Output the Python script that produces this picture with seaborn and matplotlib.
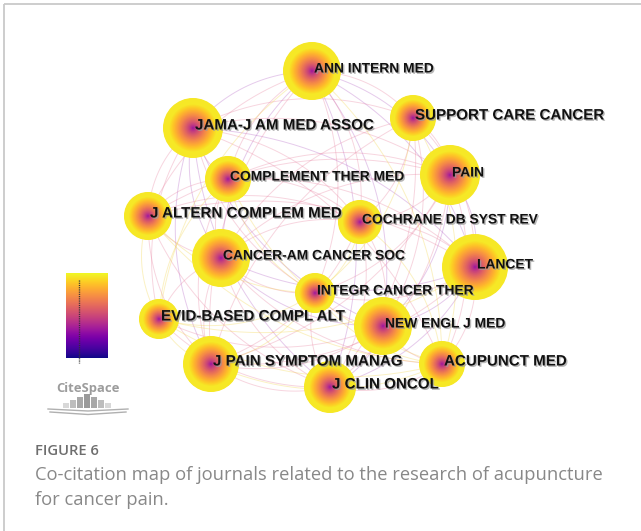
import numpy as np
import pandas as pd
import matplotlib
matplotlib.use("Agg")
import matplotlib.pyplot as plt
import matplotlib.patheffects as pe
import seaborn as sns

# ---------------- data ----------------
journals = ["ANN INTERN MED", "SUPPORT CARE CANCER", "JAMA-J AM MED ASSOC", "PAIN",
            "COMPLEMENT THER MED", "J ALTERN COMPLEM MED", "COCHRANE DB SYST REV",
            "CANCER-AM CANCER SOC", "LANCET", "INTEGR CANCER THER",
            "EVID-BASED COMPL ALT", "NEW ENGL J MED", "J PAIN SYMPTOM MANAG",
            "ACUPUNCT MED", "J CLIN ONCOL"]
# layout coordinates of the network (CiteSpace layout)
node_x = [312, 413, 193, 450, 228, 148, 360, 221, 475, 315, 159, 383, 211, 442, 330]
node_y = [71, 118, 128, 175, 179, 216, 222, 258, 267, 293, 319, 326, 364, 364, 387]
# node radius (proportional to co-citation frequency)
node_r = [29, 23, 30, 30, 23, 24, 22, 29, 33, 20, 20, 29, 28, 23, 26]

# co-citation links, grouped by time slice (old / middle / recent)
links_old = [(0, 2), (0, 8), (0, 11), (2, 8), (2, 11), (8, 11), (0, 3), (3, 8),
             (2, 7), (7, 11), (7, 8), (2, 14), (8, 14), (11, 14), (0, 14), (3, 11),
             (0, 7), (2, 12)]
links_mid = [(0, 1), (0, 4), (0, 5), (0, 6), (0, 9), (0, 12), (1, 2), (1, 3), (1, 6),
             (1, 7), (1, 8), (1, 11), (1, 12), (1, 14), (2, 3), (2, 4), (2, 5), (2, 6),
             (2, 9), (2, 10), (3, 4), (3, 5), (3, 6), (3, 7), (3, 12), (3, 13), (3, 14),
             (4, 5), (4, 6), (4, 7), (4, 12), (4, 8), (5, 7), (5, 8), (5, 12), (5, 14),
             (5, 6), (6, 7), (6, 8), (6, 11), (6, 12), (6, 14), (7, 9), (7, 10), (7, 12),
             (7, 13), (7, 14), (8, 9), (8, 12), (8, 13), (9, 11), (9, 14), (10, 11),
             (10, 14), (11, 12), (11, 13), (12, 14), (13, 14), (3, 9), (2, 13)]
links_new = [(9, 13), (9, 10), (10, 13), (4, 9), (4, 13), (5, 9), (5, 13), (10, 12),
             (1, 9), (1, 13), (6, 9), (9, 12), (12, 13), (4, 10), (0, 13), (5, 10),
             (6, 13), (0, 10), (8, 10)]

caption_title = "FIGURE 6"
caption_lines = ["Co-citation map of journals related to the research of acupuncture",
                 "for cancer pain."]
big_labels = {"SUPPORT CARE CANCER", "JAMA-J AM MED ASSOC", "J ALTERN COMPLEM MED",
              "EVID-BASED COMPL ALT", "J PAIN SYMPTOM MANAG", "ACUPUNCT MED", "J CLIN ONCOL"}

# ---------------- figure ----------------
W, H = 641, 531
fig = plt.figure(figsize=(W / 100, H / 100), dpi=100)
ax = fig.add_axes([0, 0, 1, 1])
ax.set_xlim(0, W)
ax.set_ylim(H, 0)
ax.axis("off")

# ---- links as curved arcs ----
cx, cy = np.mean(node_x), np.mean(node_y)
rows = []
eid = 0
for grp, lst in (("old", links_old), ("mid", links_mid), ("new", links_new)):
    for a, b in lst:
        p0 = np.array([node_x[a], node_y[a]], float)
        p2 = np.array([node_x[b], node_y[b]], float)
        mid = (p0 + p2) / 2
        d = p2 - p0
        L = np.hypot(*d)
        n = np.array([-d[1], d[0]]) / L
        if np.dot(n, mid - np.array([cx, cy])) < 0:
            n = -n
        p1 = mid + n * 0.22 * L
        t = np.linspace(0, 1, 30)[:, None]
        pts = (1 - t) ** 2 * p0 + 2 * (1 - t) * t * p1 + t ** 2 * p2
        for px, py in pts:
            rows.append((eid, grp, px, py))
        eid += 1
edf = pd.DataFrame(rows, columns=["edge", "slice", "x", "y"])
sns.lineplot(data=edf, x="x", y="y", units="edge", estimator=None, sort=False,
             hue="slice", palette={"old": "#b260c4", "mid": "#e8809f", "new": "#f3d54a"},
             lw=0.7, alpha=0.33, legend=False, ax=ax, zorder=1)

# ---- nodes as concentric rings (plasma gradient) ----
n_rings = 50
ring_rows = []
for i in range(len(journals)):
    for k in range(n_rings):
        f = 1 - k / n_rings
        shade = 0.3 + 0.66 * min(1.0, f / 0.8) ** 0.75
        area = (2 * node_r[i] * f * 0.72) ** 2
        ring_rows.append((node_x[i], node_y[i], f, shade, area))
ndf = pd.DataFrame(ring_rows, columns=["x", "y", "f", "shade", "area"])
ndf = ndf.sort_values("f", ascending=False, kind="stable")
amin, amax = ndf["area"].min(), ndf["area"].max()
sns.scatterplot(data=ndf, x="x", y="y", hue="shade", palette="plasma", hue_norm=(0, 1),
                size="area", sizes=(amin, amax), size_norm=(amin, amax),
                linewidth=0, edgecolor="none", legend=False, ax=ax, zorder=2)
ax.set_xlim(0, W)
ax.set_ylim(H, 0)
ax.axis("off")

# ---- labels ----
shadow = [pe.withSimplePatchShadow(offset=(1.0, -1.0), shadow_rgbFace="#9a9a9a", alpha=0.7)]
for name, x, y in zip(journals, node_x, node_y):
    fs = 10.9 if name in big_labels else 9.95
    ax.text(x + 2, y + 1.5, name, fontsize=fs, fontweight="bold", family="Liberation Sans",
            color="#111111", va="baseline", ha="left", zorder=5, path_effects=shadow)

# ---- border ----
ax.plot([4, W], [4, 4], color="#c9c9c9", lw=1.3, zorder=6, solid_capstyle="butt")
ax.plot([4, 4], [4, H], color="#c9c9c9", lw=1.3, zorder=6, solid_capstyle="butt")

# ---- colour bar (time slices) ----
cax = fig.add_axes([66 / W, 1 - 358 / H, 42 / W, 85 / H])
grad = np.linspace(1, 0, 256)[:, None]
cax.imshow(grad, cmap="plasma", aspect="auto", extent=[66, 108, 358, 273], vmin=0, vmax=1)
cax.set_xlim(66, 108)
cax.set_ylim(358, 273)
cax.axis("off")
cax.plot([79, 79], [280, 363], ls=(0, (0.8, 0.8)), color="#333333", lw=1.0, clip_on=False)

# ---- CiteSpace logo ----
ax.text(88, 392, "CiteSpace", fontsize=9.4, fontweight="bold", family="Open Sans",
        color="#9c9c9c", ha="center", va="baseline", zorder=5)
logo_x = [66, 73, 80, 87, 94, 101, 108]
logo_h = [5, 8, 11, 14, 11, 8, 5]
logo_c = ["#d8d8d8", "#bdbdbd", "#a8a8a8", "#9a9a9a", "#a8a8a8", "#bdbdbd", "#d8d8d8"]
ax.bar(logo_x, [-h for h in logo_h], bottom=408, width=6.5, color=logo_c, zorder=5)
ax.plot([48, 88, 128], [409, 411, 409], color="#b0b0b0", lw=1.0, zorder=5)
ax.plot([50, 88, 126], [412, 414.5, 412], color="#b0b0b0", lw=1.0, zorder=5)
ax.set_xlim(0, W)
ax.set_ylim(H, 0)

# ---- caption ----
ax.text(35, 455, caption_title, fontsize=10.6, fontweight="semibold", family="Open Sans",
        color="#6e6e6e", ha="left", va="baseline")
for j, line in enumerate(caption_lines):
    ax.text(35, 480 + 25 * j, line, fontsize=13.2, family="Open Sans",
            color="#888888", ha="left", va="baseline")

fig.savefig("out.png", dpi=100)
